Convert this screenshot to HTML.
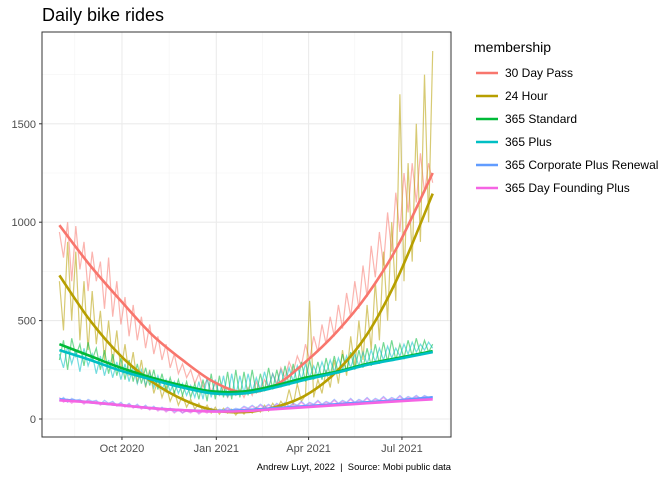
<!DOCTYPE html>
<html><head><meta charset="utf-8"><style>
body{margin:0;background:#fff;font-family:"Liberation Sans",sans-serif}
svg text{font-family:"Liberation Sans",sans-serif}
</style></head><body>
<svg id="chart" width="672" height="480" xmlns="http://www.w3.org/2000/svg">
<text x="42" y="21" font-size="18" fill="#000">Daily bike rides</text>
<g id="grid"></g><g id="raw"></g><g id="smooth"></g>
<rect x="42" y="32" width="409" height="405" fill="none" stroke="#333" stroke-width="1"/>
<g id="axes"></g>
<text x="451" y="470" font-size="9.4" text-anchor="end" fill="#000" style="white-space:pre" xml:space="preserve">Andrew Luyt, 2022  |  Source: Mobi public data</text>
<g id="legend"></g>
</svg>
<script>
const seriesNames=["30 Day Pass","24 Hour","365 Standard","365 Plus","365 Corporate Plus Renewal","365 Day Founding Plus"];
const colors=["#F8766D","#B79F00","#00BA38","#00BFC4","#619CFF","#F564E3"];
const rawDays=[...Array(92).keys()].map(i=>i*4);
const rawRed=[950,820,1000,700,980,760,900,650,850,700,800,
560,820,520,700,480,620,420,580,400,520,360,
480,330,420,300,380,260,330,230,280,210,250,
180,230,160,200,140,180,120,160,110,150,120,
150,110,160,120,190,140,200,160,230,180,260,
210,290,240,320,270,380,300,420,340,480,380,
520,420,580,460,640,520,700,560,780,620,880,
720,950,780,1050,850,1150,950,1250,1050,1300,1100,
1350,1150,1300,1200];
const rawGold=[700,450,900,500,850,400,700,350,650,380,550,
300,500,280,450,240,380,220,340,180,300,160,
250,130,200,110,170,90,140,70,120,60,100,
50,80,40,70,30,60,25,55,30,50,20,
45,25,50,30,60,35,70,40,80,50,90,
60,150,70,180,90,120,600,110,200,130,250,
160,300,180,350,220,420,260,500,300,580,350,
700,400,850,500,1000,600,1650,700,1300,800,1500,
900,1750,1000,1870];
const rawGreen=[300,400,250,410,320,380,270,390,300,360,250,
350,230,330,220,310,200,300,190,280,180,260,
170,250,150,230,140,210,130,200,120,190,110,
180,100,200,90,230,100,220,110,240,100,250,
110,240,120,250,130,230,140,260,150,250,160,
270,170,280,180,290,190,300,200,290,200,310,
220,320,230,330,240,340,250,350,260,360,270,
380,280,390,290,400,300,380,310,400,320,410,
330,400,340,380];
const rawCyan=[330,260,370,280,350,240,360,270,330,230,320,
220,300,210,290,200,280,190,270,180,250,170,
240,160,220,150,200,140,190,130,180,120,170,
110,190,100,210,110,200,120,220,110,230,120,
220,130,230,140,210,150,240,160,230,170,250,
180,260,190,270,200,280,210,270,220,290,230,
300,240,310,250,320,260,330,270,340,280,350,
290,360,300,370,310,360,320,380,330,390,340,
380,350,390,360];
const rawBlue=[90,110,85,105,95,100,80,100,90,95,75,
95,80,90,70,85,65,80,60,75,55,70,
50,65,45,60,40,55,35,50,30,45,35,
50,30,45,35,55,40,50,45,60,45,55,
50,65,55,70,55,75,60,75,60,80,65,
85,65,80,70,90,70,85,75,95,75,90,
80,100,80,95,85,105,85,100,90,110,90,
105,95,115,95,110,100,120,100,115,105,120,
105,120,110,115];
const rawPink=[110,85,100,80,95,90,75,95,85,90,70,
85,75,85,65,80,60,75,55,70,50,65,
45,60,40,55,35,50,30,45,30,40,30,
45,25,40,30,50,35,45,40,55,40,50,
45,60,50,65,50,70,55,70,55,75,60,
80,60,75,65,85,65,80,70,90,70,85,
75,95,75,90,80,100,80,95,85,105,85,
100,90,110,90,105,95,115,95,110,100,115,
100,115,105,110];
const smoothDays=[0,30,60,90,120,150,180,210,240,270,300,330,364];
const smRed=[985,780,600,430,300,190,135,170,290,440,630,880,1250];
const smGold=[730,500,320,190,100,45,35,60,120,240,430,720,1145];
const smGreen=[380,320,260,210,170,140,140,170,210,240,280,310,345];
const smCyan=[350,300,245,200,160,130,130,160,200,235,275,305,340];
const smBlue=[100,85,70,55,45,40,45,55,65,75,85,95,110];
const smPink=[95,85,70,55,45,38,40,50,60,70,80,90,100];
const yTicks=[0,500,1000,1500];
const xTickLabels=["Oct 2020","Jan 2021","Apr 2021","Jul 2021"];
const xTickDays=[61,153,243,334];
const raws=[rawRed,rawGold,rawGreen,rawCyan,rawBlue,rawPink];
const smooths=[smRed,smGold,smGreen,smCyan,smBlue,smPink];
const X=d=>59.4+1.0256*d, Y=v=>419-0.1968*v;
const NS="http://www.w3.org/2000/svg";
function mk(tag,parent,attrs){const e=document.createElementNS(NS,tag);for(const k in attrs)e.setAttribute(k,attrs[k]);document.getElementById(parent).appendChild(e);return e;}
for(let i=0;i<yTicks.length;i++){const l=mk('line','grid',{x1:42,x2:451,y1:Y(yTicks[i]),y2:Y(yTicks[i]),stroke:'#EBEBEB','stroke-width':1.1});

const m=mk('line','grid',{x1:42,x2:451,y1:Y(yTicks[i]+250),y2:Y(yTicks[i]+250),stroke:'#F3F3F3','stroke-width':0.6});
}
const minorX=[15,107,198,288,380];
for(const d of minorX){const m=mk('line','grid',{x1:X(d),x2:X(d),y1:32,y2:437,stroke:'#F3F3F3','stroke-width':0.6});
}
for(let i=0;i<xTickDays.length;i++){const l=mk('line','grid',{x1:X(xTickDays[i]),x2:X(xTickDays[i]),y1:32,y2:437,stroke:'#EBEBEB','stroke-width':1.1});

const t=mk('line','axes',{x1:X(xTickDays[i]),x2:X(xTickDays[i]),y1:437,y2:440,stroke:'#333'});

const tx=mk('text','axes',{x:X(xTickDays[i]),y:452,'font-size':11,'text-anchor':'middle',fill:'#4D4D4D'});tx.textContent=xTickLabels[i];
}
for(const v of yTicks){const t=mk('line','axes',{x1:39,x2:42,y1:Y(v),y2:Y(v),stroke:'#333'});

const tx=mk('text','axes',{x:36,y:Y(v)+4,'font-size':11,'text-anchor':'end',fill:'#4D4D4D'});tx.textContent=v;
}
raws.forEach((arr,s)=>{const pts=arr.map((v,i)=>X(rawDays[i]).toFixed(1)+','+Y(v).toFixed(1)).join(' ');
const p=mk('polyline','raw',{points:pts,fill:'none',stroke:colors[s],'stroke-width':1.2,'stroke-opacity':0.55});
});
smooths.forEach((arr,s)=>{const P=arr.map((v,i)=>[X(smoothDays[i]),Y(v)]);let d='M'+P[0][0]+','+P[0][1];
for(let i=0;i<P.length-1;i++){const p0=P[Math.max(0,i-1)],p1=P[i],p2=P[i+1],p3=P[Math.min(P.length-1,i+2)];
d+=` C${p1[0]+(p2[0]-p0[0])/6},${p1[1]+(p2[1]-p0[1])/6} ${p2[0]-(p3[0]-p1[0])/6},${p2[1]-(p3[1]-p1[1])/6} ${p2[0]},${p2[1]}`;}
const p=mk('path','smooth',{d:d,fill:'none',stroke:colors[s],'stroke-width':2.6});
});
const lt=mk('text','legend',{x:474,y:52,'font-size':14,fill:'#000'});lt.textContent='membership';

seriesNames.forEach((n,i)=>{const y=73+i*23;
const l=mk('line','legend',{x1:476,x2:498,y1:y,y2:y,stroke:colors[i],'stroke-width':2.6});

const t=mk('text','legend',{x:505,y:y+4,'font-size':12,fill:'#000'});t.textContent=n;
});
</script>
</body></html>
